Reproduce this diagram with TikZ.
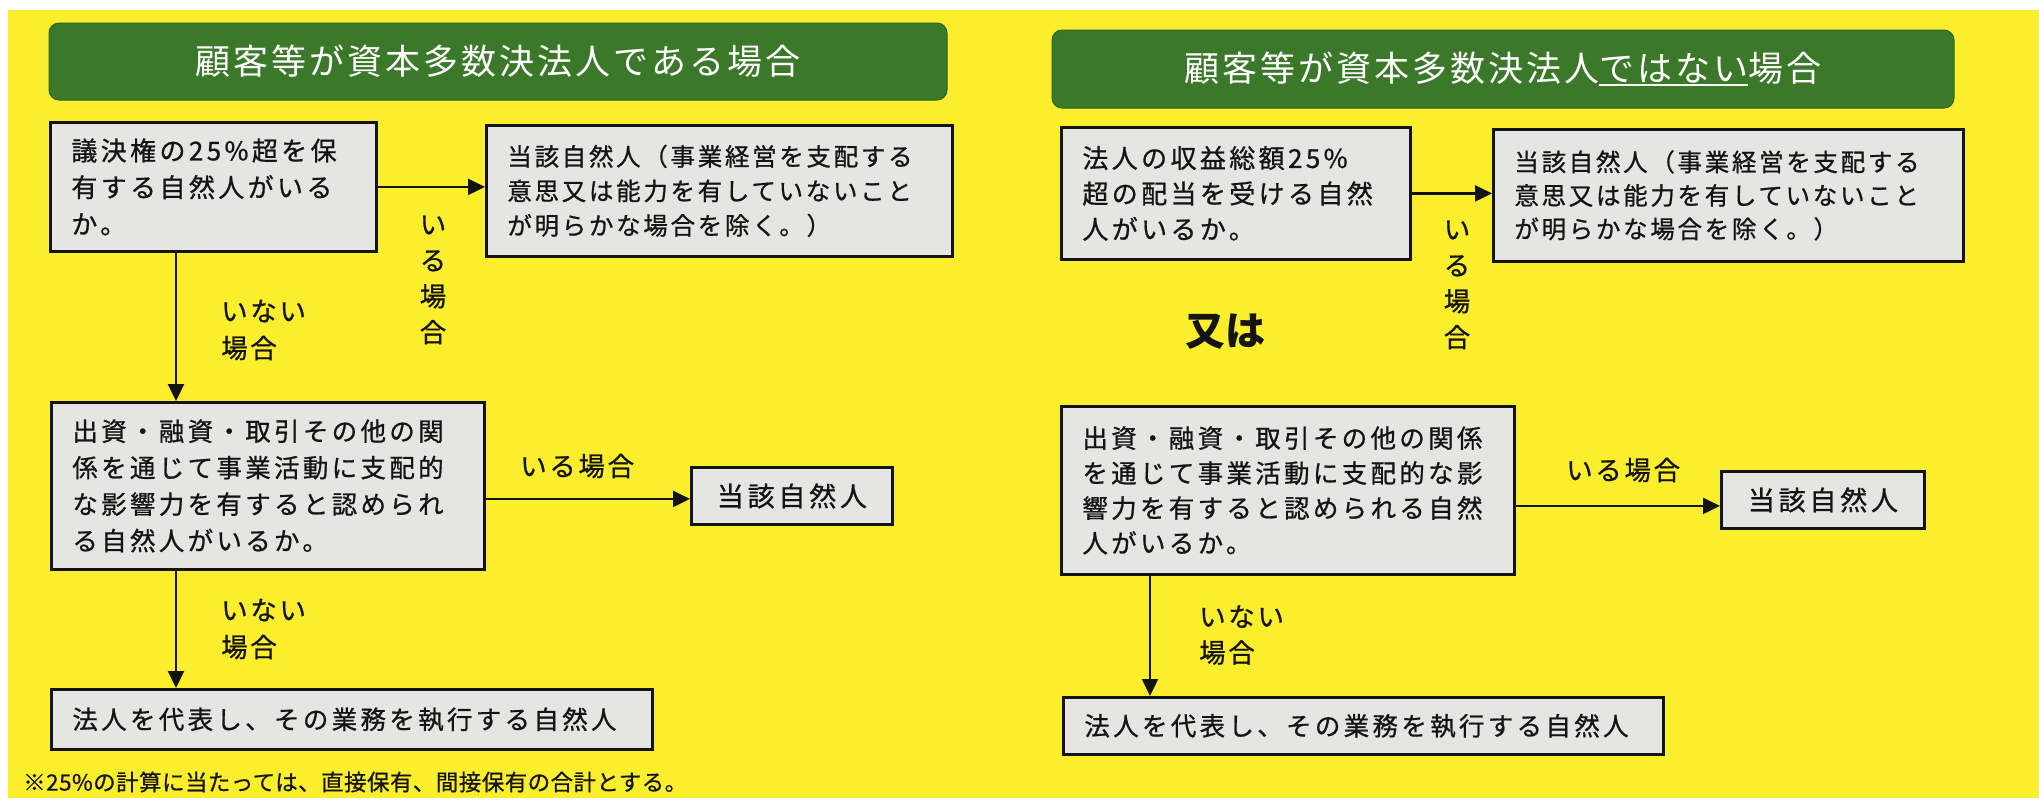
\documentclass[tikz,border=0pt]{standalone}
\usepackage{fontspec}
\setmainfont{Noto Sans CJK JP}
\newfontfamily\jpA[LetterSpace=13,FakeBold=0.8]{Noto Sans CJK JP}
\newfontfamily\jpB[LetterSpace=11,FakeBold=0.8]{Noto Sans CJK JP}
\newfontfamily\jpC[LetterSpace=14,FakeBold=0.8]{Noto Sans CJK JP}
\newfontfamily\jpD[LetterSpace=10,FakeBold=0.8]{Noto Sans CJK JP}
\newfontfamily\jpT[LetterSpace=8.5]{Noto Sans CJK JP}
\newfontfamily\jpF[LetterSpace=2,FakeBold=0.6]{Noto Sans CJK JP}
\usetikzlibrary{arrows.meta,calc}
\definecolor{bgyellow}{RGB}{250,238,45}
\definecolor{hdrgreen}{RGB}{60,120,42}
\definecolor{hdredge}{RGB}{45,100,30}
\definecolor{boxgray}{RGB}{229,230,227}
\definecolor{ink}{RGB}{20,20,20}
\newcommand\myul[1]{\setbox0\hbox{#1}\rlap{\raisebox{-5pt}{\rule{\wd0}{2pt}}}\box0}
\begin{document}
\begin{tikzpicture}[x=1pt,y=-1pt,
  hdr/.style={draw=hdredge, line width=1pt, fill=hdrgreen, rounded corners=10pt, text=white, inner sep=0pt, font=\fontsize{35}{40}\jpT},
  box/.style={draw=ink, line width=2.8pt, fill=boxgray, text=ink, anchor=north west, inner xsep=21pt, inner ysep=0pt, align=left},
  cbox/.style={draw=ink, line width=2.8pt, fill=boxgray, text=ink, anchor=north west, inner sep=0pt, align=center, font=\fontsize{27}{32}\jpC},
  lbl/.style={inner sep=0pt, text=ink, font=\fontsize{26.5}{36}\jpD},
  arr/.style={draw=ink, line width=2.2pt, -{Triangle[length=17pt,width=16pt]}}
]
\useasboundingbox (0,0) rectangle (2039,804);
\fill[white] (0,0) rectangle (2039,804);
\fill[bgyellow] (8,10) rectangle (2039,798);

% headers
\node[hdr, minimum width=898pt, minimum height=77pt] (hl) at (498,61.5) {顧客等が資本多数決法人である場合};
\node[hdr, minimum width=902pt, minimum height=78pt] (hr) at (1503,69) {顧客等が資本多数決法人\myul{ではない}場合};

% left column
\node[box, minimum width=326pt, minimum height=129pt, text width=284pt, font=\fontsize{26}{36.7}\jpA] (L1) at (49,121)
  {議決権の25\%超を保\\有する自然人がいる\\か。};
\node[box, minimum width=466pt, minimum height=131pt, text width=424pt, font=\fontsize{24.5}{34.5}\jpB] (L2) at (485,124)
  {当該自然人（事業経営を支配する\\意思又は能力を有していないこと\\が明らかな場合を除く。）};
\node[box, minimum width=433pt, minimum height=167pt, text width=391pt, font=\fontsize{25.5}{36.5}\jpA] (L3) at (50,401)
  {出資・融資・取引その他の関\\係を通じて事業活動に支配的\\な影響力を有すると認められ\\る自然人がいるか。};
\node[cbox, minimum width=201pt, minimum height=57pt] (L4) at (690,466) {当該自然人};
\node[box, minimum width=601pt, minimum height=60pt, text width=559pt, font=\fontsize{25.5}{36}\jpA] (L5) at (50,688)
  {法人を代表し、その業務を執行する自然人};

% right column
\node[box, minimum width=349pt, minimum height=132pt, text width=307pt, font=\fontsize{26}{35.5}\jpA] (R1) at (1060,126)
  {法人の収益総額25\%\\超の配当を受ける自然\\人がいるか。};
\node[box, minimum width=470pt, minimum height=132pt, text width=428pt, font=\fontsize{24.5}{33.5}\jpB] (R2) at (1492,128)
  {当該自然人（事業経営を支配する\\意思又は能力を有していないこと\\が明らかな場合を除く。）};
\node[box, minimum width=453pt, minimum height=168pt, text width=411pt, font=\fontsize{25.5}{35}\jpA] (R3) at (1060,405)
  {出資・融資・取引その他の関係\\を通じて事業活動に支配的な影\\響力を有すると認められる自然\\人がいるか。};
\node[cbox, minimum width=203pt, minimum height=57pt] (R4) at (1720,470) {当該自然人};
\node[box, minimum width=600pt, minimum height=57pt, text width=558pt, font=\fontsize{25.5}{36}\jpA] (R5) at (1062,696)
  {法人を代表し、その業務を執行する自然人};

% connectors
\coordinate (vl) at (176,0);
\coordinate (vr) at (1150,0);
\draw[arr] (L1.east) -- (L1.east -| L2.west);
\draw[arr] (L1.south -| vl) -- (L3.north -| vl);
\draw[arr] ([yshift=-3pt]L4.west -| L3.east) -- ([yshift=-3pt]L4.west);
\draw[arr] (L3.south -| vl) -- (L5.north -| vl);
\draw[arr] (R1.east) -- (R1.east -| R2.west);
\draw[arr] ([yshift=-6pt]R4.west -| R3.east) -- ([yshift=-6pt]R4.west);
\draw[arr] (R3.south -| vr) -- (R5.north -| vr);

% labels
\node[lbl, align=center] (lv1) at (433,280) {い\\る\\場\\合};
\node[lbl, align=left, anchor=west, font=\fontsize{26.5}{37}\jpD] (ln1) at (221,330) {いない\\場合};
\node[lbl, anchor=west] (lh1) at (520,466) {いる場合};
\node[lbl, align=left, anchor=west, font=\fontsize{26.5}{37}\jpD] (ln2) at (221,629) {いない\\場合};
\node[lbl, align=center] (lv2) at (1457,285) {い\\る\\場\\合};
\node[lbl, anchor=west] (lh2) at (1566,470) {いる場合};
\node[lbl, align=left, anchor=west, font=\fontsize{26.5}{36}\jpD] (ln3) at (1199,635) {いない\\場合};
\node[inner sep=0pt, text=ink, font=\fontsize{40}{44}\selectfont\bfseries] (mata) at (1225,332) {又は};

% footnote
\node[inner sep=0pt, anchor=west, text=ink, font=\fontsize{22.5}{26}\jpF] (fn) at (23,782)
  {※25\%の計算に当たっては、直接保有、間接保有の合計とする。};
\end{tikzpicture}
\end{document}
